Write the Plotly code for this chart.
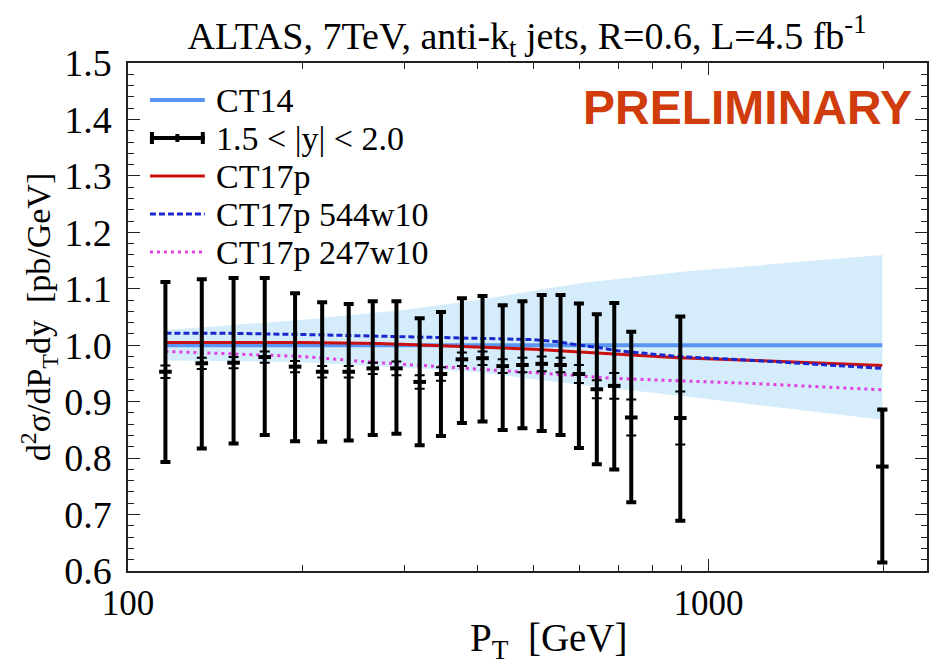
import plotly.graph_objects as go

# ---------------- data ----------------
pt_data = [116, 134, 152, 172, 194, 216, 240, 264, 290, 318, 346, 376, 408, 442,
           478, 516, 556, 598, 642, 688, 736, 894, 1992]
ratio = [0.953, 0.968, 0.969, 0.979, 0.962, 0.953, 0.953, 0.959, 0.959, 0.935, 0.949,
         0.975, 0.977, 0.963, 0.965, 0.967, 0.965, 0.949, 0.922, 0.928, 0.872, 0.871, 0.785]
tot_hi = [1.112, 1.117, 1.119, 1.119, 1.092, 1.076, 1.073, 1.078, 1.078, 1.048, 1.059,
          1.083, 1.087, 1.071, 1.078, 1.089, 1.089, 1.074, 1.055, 1.075, 1.024, 1.051, 0.886]
tot_lo = [0.793, 0.817, 0.826, 0.841, 0.830, 0.829, 0.831, 0.841, 0.843, 0.823, 0.839,
          0.862, 0.865, 0.850, 0.853, 0.848, 0.841, 0.818, 0.789, 0.780, 0.722, 0.689, 0.615]
stat_plus = [0.011, 0.010, 0.010, 0.010, 0.010, 0.010, 0.010, 0.010, 0.012, 0.012, 0.012,
             0.012, 0.012, 0.012, 0.013, 0.013, 0.013, 0.016, 0.016, 0.023, 0.032, 0.047, 0.100]
stat_minus = [0.011, 0.010, 0.010, 0.010, 0.010, 0.010, 0.010, 0.010, 0.012, 0.012, 0.012,
              0.012, 0.012, 0.012, 0.013, 0.013, 0.013, 0.016, 0.016, 0.023, 0.032, 0.047, 0.170]

pt_theory = [116, 150, 200, 271, 358, 435, 500, 552, 600, 647, 700, 887, 1200, 1992]
ct14 = [1.0] * len(pt_theory)
ct17p = [1.005, 1.005, 1.005, 1.003, 0.999, 0.996, 0.993, 0.990, 0.988, 0.986, 0.984, 0.978, 0.973, 0.964]
ct17p_544 = [1.021, 1.021, 1.019, 1.016, 1.014, 1.012, 1.010, 1.006, 1.000, 0.996, 0.990, 0.980, 0.973, 0.959]
ct17p_247 = [0.989, 0.985, 0.980, 0.969, 0.961, 0.956, 0.952, 0.949, 0.946, 0.943, 0.941, 0.937, 0.932, 0.921]

pt_band = [116, 200, 300, 400, 600, 900, 1992]
band_hi = [1.027, 1.045, 1.063, 1.080, 1.110, 1.130, 1.160]
band_lo = [0.973, 0.970, 0.960, 0.952, 0.930, 0.910, 0.868]

legend_labels = ["CT14", "1.5 < |y| < 2.0", "CT17p", "CT17p 544w10", "CT17p 247w10"]
title_text = "ALTAS, 7TeV, anti-k<sub>t</sub> jets, R=0.6, L=4.5 fb<sup>-1</sup>"
x_title = "P<sub>T</sub>\u00a0\u00a0[GeV]"
y_title = "d<sup>2</sup>σ/dP<sub>T</sub>dy\u00a0\u00a0[pb/GeV]"
y_ticks = [0.6, 0.7, 0.8, 0.9, 1.0, 1.1, 1.2, 1.3, 1.4, 1.5]
y_ticklabels = ["0.6", "0.7", "0.8", "0.9", "1.0", "1.1", "1.2", "1.3", "1.4", "1.5"]
x_ticks = [100, 1000]
x_ticklabels = ["100", "1000"]
x_minor = [200, 300, 400, 500, 600, 700, 800, 900, 2000]

SERIF = "Liberation Serif"
C_CT14 = "#5b95f3"
C_CT17 = "#cc1010"
C_544 = "#1a28d0"
C_247 = "#e040e0"
DASH_544 = "6px,3px"
DOT_247 = "3px,4px"

err_plus = [h - c for h, c in zip(tot_hi, ratio)]
err_minus = [c - l for c, l in zip(ratio, tot_lo)]

fig = go.Figure()

# CT14 uncertainty band
fig.add_trace(go.Scatter(x=pt_band, y=band_lo, mode="lines", line=dict(width=0),
                         hoverinfo="skip", showlegend=False))
fig.add_trace(go.Scatter(x=pt_band, y=band_hi, mode="lines", line=dict(width=0),
                         fill="tonexty", fillcolor="#d5edfa",
                         hoverinfo="skip", showlegend=False))

fig.add_trace(go.Scatter(x=pt_theory, y=ct14, mode="lines", name=legend_labels[0],
                         line=dict(color=C_CT14, width=4), showlegend=False))
fig.add_trace(go.Scatter(x=pt_theory, y=ct17p, mode="lines", name=legend_labels[2],
                         line=dict(color=C_CT17, width=3), showlegend=False))
fig.add_trace(go.Scatter(x=pt_theory, y=ct17p_544, mode="lines", name=legend_labels[3],
                         line=dict(color=C_544, width=3, dash=DASH_544), showlegend=False))
fig.add_trace(go.Scatter(x=pt_theory, y=ct17p_247, mode="lines", name=legend_labels[4],
                         line=dict(color=C_247, width=3, dash=DOT_247), showlegend=False))

# data: total uncertainty
fig.add_trace(go.Scatter(x=pt_data, y=ratio, mode="markers", name=legend_labels[1],
                         showlegend=False,
                         marker=dict(symbol="line-ew", size=9, color="black",
                                     line=dict(color="black", width=4)),
                         error_y=dict(type="data", symmetric=False, array=err_plus,
                                      arrayminus=err_minus, color="black",
                                      thickness=4, width=5)))
# data: statistical uncertainty
fig.add_trace(go.Scatter(x=pt_data, y=ratio, mode="markers", showlegend=False,
                         marker=dict(symbol="line-ew", size=1, color="black",
                                     line=dict(color="black", width=0)),
                         error_y=dict(type="data", symmetric=False, array=stat_plus,
                                      arrayminus=stat_minus, color="black",
                                      thickness=2, width=5)))

# ---------------- manual legend (paper coords from pixel layout) ----------------
L, T, W, H = 128, 63, 801, 508


def px(xp):
    return (xp - L) / W


def py(yp):
    return (T + H - yp) / H


rows = [100, 138, 176, 214, 252]
x0, x1 = 150, 205
shapes = []
annotations = []
styles = [
    dict(color=C_CT14, width=4),
    None,
    dict(color=C_CT17, width=3),
    dict(color=C_544, width=3, dash=DASH_544),
    dict(color=C_247, width=3, dash=DOT_247),
]
for i, (r, lab) in enumerate(zip(rows, legend_labels)):
    if styles[i] is not None:
        shapes.append(dict(type="line", xref="paper", yref="paper",
                           x0=px(x0), x1=px(x1), y0=py(r), y1=py(r), line=styles[i]))
    else:
        shapes.append(dict(type="line", xref="paper", yref="paper",
                           x0=px(x0), x1=px(x1), y0=py(r), y1=py(r),
                           line=dict(color="black", width=4)))
        for xc, hh in [(x0 + 2, 6), (x1 - 2, 6), ((x0 + x1) / 2, 4)]:
            shapes.append(dict(type="line", xref="paper", yref="paper",
                               x0=px(xc), x1=px(xc), y0=py(r - hh), y1=py(r + hh),
                               line=dict(color="black", width=4)))
    annotations.append(dict(text=lab, xref="paper", yref="paper", x=px(214), y=py(r),
                            xanchor="left", yanchor="middle", showarrow=False,
                            font=dict(family=SERIF, size=34, color="black")))

annotations += [
    dict(text=x_title, xref="paper", yref="paper", x=px(550), y=py(640),
         xanchor="center", yanchor="middle", showarrow=False,
         font=dict(family=SERIF, size=39, color="black")),
    dict(text=y_title, xref="paper", yref="paper", x=px(38), y=py(317),
         xanchor="center", yanchor="middle", textangle=-90, showarrow=False,
         font=dict(family=SERIF, size=34, color="black")),
    dict(text="<b>PRELIMINARY</b>", xref="paper", yref="paper",
         x=px(916), y=py(108), xanchor="right", yanchor="middle",
         showarrow=False, font=dict(family="Liberation Sans", size=48, color="#d03c0c")),
]

fig.update_layout(
    width=930, height=664,
    margin=dict(l=L, r=930 - L - W, t=T, b=664 - T - H),
    paper_bgcolor="white", plot_bgcolor="white",
    font=dict(family=SERIF, size=30, color="black"),
    title=dict(text=title_text, x=527 / 930, xref="container", xanchor="center",
               y=1 - 36 / 664, yref="container", yanchor="middle",
               font=dict(family=SERIF, size=38, color="black")),
    showlegend=False,
    xaxis=dict(type="log", range=[2, 2 + W / 582], showgrid=False, zeroline=False,
               showline=True, linecolor="#222", linewidth=1.5, mirror="allticks",
               ticks="inside", ticklen=12, tickwidth=1.2, tickcolor="#222",
               tickmode="array", tickvals=x_ticks, ticktext=x_ticklabels,
               tickfont=dict(family=SERIF, size=35),
               minor=dict(tickmode="array", tickvals=x_minor, ticks="inside",
                          ticklen=6, tickwidth=1.2, tickcolor="#222")),
    yaxis=dict(range=[0.6, 1.5], showgrid=False, zeroline=False,
               showline=True, linecolor="#222", linewidth=1.5, mirror="allticks",
               ticks="inside", ticklen=12, tickwidth=1.2, tickcolor="#222",
               tickmode="array", tickvals=y_ticks, ticktext=y_ticklabels,
               tickfont=dict(family=SERIF, size=38), ticklabelstandoff=7,
               minor=dict(dtick=0.02, ticks="inside", ticklen=6, tickwidth=1.2,
                          tickcolor="#222")),
    shapes=shapes,
    annotations=annotations,
)

fig.write_html("out.html")
